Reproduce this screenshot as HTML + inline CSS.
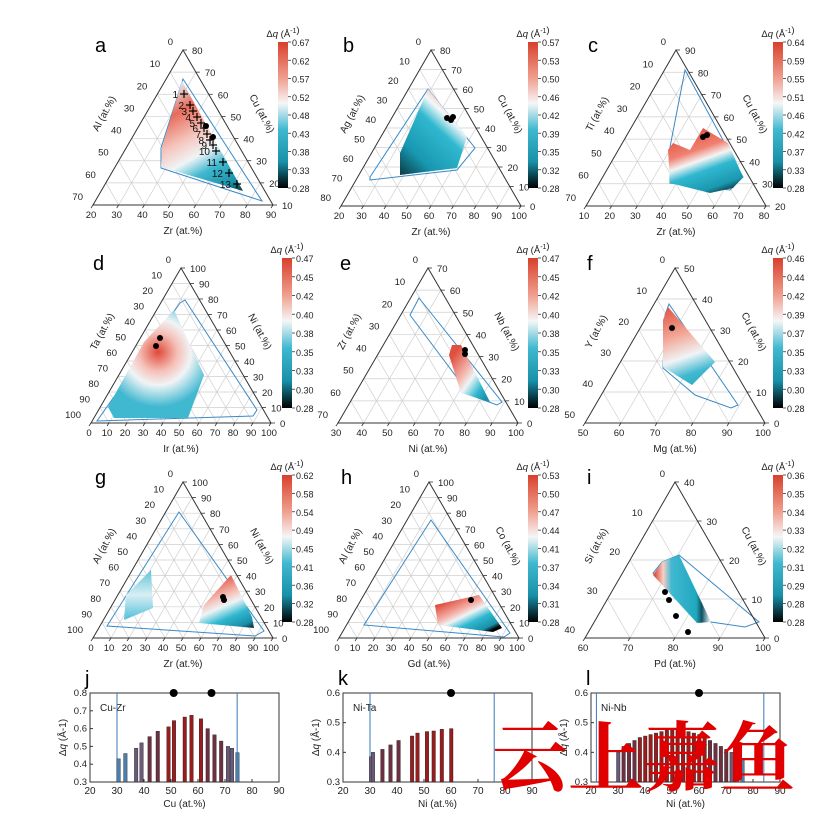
<!DOCTYPE html><html><head><style>body{margin:0;background:#fff}svg{font-family:"Liberation Sans",sans-serif}</style></head><body>
<svg id="s" width="824" height="823" xmlns="http://www.w3.org/2000/svg">
<defs>
<linearGradient id="cb" x1="0" y1="0" x2="0" y2="1"><stop offset="0" stop-color="#d8402c"/><stop offset=".25" stop-color="#f0a090"/><stop offset=".42" stop-color="#f6f6f6"/><stop offset=".6" stop-color="#40b8d0"/><stop offset=".82" stop-color="#1890a8"/><stop offset="1" stop-color="#000"/></linearGradient>
<linearGradient id="ga" gradientUnits="userSpaceOnUse" x1="182" y1="81" x2="243" y2="191"><stop offset="0" stop-color="#dff0f5"/><stop offset=".2" stop-color="#e86a5a"/><stop offset=".42" stop-color="#f5c5bc"/><stop offset=".58" stop-color="#f0f4f6"/><stop offset=".72" stop-color="#40b8d0"/><stop offset=".9" stop-color="#1a90a8"/><stop offset="1" stop-color="#0a3038"/></linearGradient>
<linearGradient id="gb" gradientUnits="userSpaceOnUse" x1="470" y1="100" x2="400" y2="175"><stop offset="0" stop-color="#e05040"/><stop offset=".15" stop-color="#f5b8b0"/><stop offset=".27" stop-color="#f4f8f8"/><stop offset=".42" stop-color="#30b8d0"/><stop offset=".75" stop-color="#1898b0"/><stop offset="1" stop-color="#0a3a45"/></linearGradient>
<linearGradient id="gc" gradientUnits="userSpaceOnUse" x1="700" y1="125" x2="725" y2="195"><stop offset="0" stop-color="#e05040"/><stop offset=".3" stop-color="#f08070"/><stop offset=".45" stop-color="#f4f4f4"/><stop offset=".6" stop-color="#30b8d0"/><stop offset=".85" stop-color="#1a98b0"/><stop offset="1" stop-color="#0a2025"/></linearGradient>
<radialGradient id="gd" gradientUnits="userSpaceOnUse" cx="158" cy="352" r="55"><stop offset="0" stop-color="#e04838"/><stop offset=".35" stop-color="#f5c0b8"/><stop offset=".6" stop-color="#f0f4f6"/><stop offset="1" stop-color="#40b8d0"/></radialGradient>
<linearGradient id="ge" gradientUnits="userSpaceOnUse" x1="450" y1="360" x2="492" y2="390"><stop offset="0" stop-color="#e05040"/><stop offset=".4" stop-color="#f5c0b8"/><stop offset=".55" stop-color="#eef4f6"/><stop offset=".8" stop-color="#30b8d0"/><stop offset="1" stop-color="#1890a8"/></linearGradient>
<linearGradient id="gf" gradientUnits="userSpaceOnUse" x1="670" y1="305" x2="700" y2="390"><stop offset="0" stop-color="#e05040"/><stop offset=".35" stop-color="#f2a898"/><stop offset=".6" stop-color="#f0f4f6"/><stop offset=".8" stop-color="#40b8d0"/><stop offset="1" stop-color="#28a8c0"/></linearGradient>
<linearGradient id="gg" gradientUnits="userSpaceOnUse" x1="225" y1="575" x2="250" y2="632"><stop offset="0" stop-color="#e05040"/><stop offset=".3" stop-color="#f5c0b8"/><stop offset=".45" stop-color="#eef4f6"/><stop offset=".65" stop-color="#30b8d0"/><stop offset=".85" stop-color="#1890a8"/><stop offset="1" stop-color="#000"/></linearGradient>
<linearGradient id="gg2" x1="0" y1="0" x2="0" y2="1"><stop offset="0" stop-color="#60c4d8"/><stop offset=".5" stop-color="#d8eef4"/><stop offset="1" stop-color="#50c0d8"/></linearGradient>
<linearGradient id="gh" gradientUnits="userSpaceOnUse" x1="460" y1="595" x2="480" y2="636"><stop offset="0" stop-color="#e05040"/><stop offset=".3" stop-color="#f5b0a8"/><stop offset=".45" stop-color="#eef4f6"/><stop offset=".65" stop-color="#30b8d0"/><stop offset=".9" stop-color="#1890a8"/><stop offset="1" stop-color="#000"/></linearGradient>
<linearGradient id="gi" gradientUnits="userSpaceOnUse" x1="655" y1="590" x2="710" y2="590"><stop offset="0" stop-color="#e05040"/><stop offset=".15" stop-color="#f5d0c8"/><stop offset=".3" stop-color="#40b8d0"/><stop offset=".75" stop-color="#20a8c0"/><stop offset=".85" stop-color="#105060"/><stop offset="1" stop-color="#e0f0f4"/></linearGradient>
</defs>
<g id="g"></g>
<text x="492" y="785" font-size="76" fill="#e00000" font-family="'Noto Serif CJK SC',serif" font-weight="bold">云上嘉鱼</text>
</svg>
<script>
const g=document.getElementById('g');let h='';
function T(x,y,t,o){o=o||{};h+=`<text x="${x}" y="${y}" font-size="${o.s||10}" text-anchor="${o.a||'middle'}" fill="${o.f||'#222'}"${o.r!==undefined?` transform="rotate(${o.r} ${x} ${y})"`:''}>${t}</text>`}
function L(a,b,c,d,col,w){h+=`<line x1="${a}" y1="${b}" x2="${c}" y2="${d}" stroke="${col||'#333'}" stroke-width="${w||1}"/>`}
function poly(p,f,s){h+=`<polygon points="${p.map(q=>q.join(',')).join(' ')}" fill="${f||'none'}"${s?` stroke="${s}" stroke-width="1"`:''}/>`}
function dot(x,y,r){h+=`<circle cx="${x}" cy="${y}" r="${r||3}" fill="#000"/>`}
const P=[
['a',183,50,205,['Al (at.%)','Cu (at.%)','Zr (at.%)'],7,20,90,80,278,42,188,'0.67 0.62 0.57 0.52 0.48 0.43 0.38 0.33 0.28'],
['b',431,50,206,['Ag (at.%)','Cu (at.%)','Zr (at.%)'],8,20,100,80,528,42,188,'0.57 0.53 0.50 0.46 0.42 0.39 0.35 0.32 0.28'],
['c',676,50,206,['Ti (at.%)','Cu (at.%)','Zr (at.%)'],7,10,80,90,773,42,188,'0.64 0.59 0.55 0.51 0.46 0.42 0.37 0.33 0.28'],
['d',181,268,423,['Ta (at.%)','Ni (at.%)','Ir (at.%)'],10,0,100,100,282,258,408,'0.47 0.45 0.42 0.40 0.38 0.35 0.33 0.30 0.28'],
['e',428,268,423,['Zr (at.%)','Nb (at.%)','Ni (at.%)'],7,30,100,70,528,258,408,'0.47 0.45 0.42 0.40 0.38 0.35 0.33 0.30 0.28'],
['f',675,268,423,['Y (at.%)','Cu (at.%)','Mg (at.%)'],5,50,100,50,773,258,408,'0.46 0.44 0.42 0.39 0.37 0.35 0.33 0.30 0.28'],
['g',183,482,638,['Al (at.%)','Ni (at.%)','Zr (at.%)'],10,0,100,100,282,475,622,'0.62 0.58 0.54 0.49 0.45 0.41 0.36 0.32 0.28'],
['h',429,482,638,['Al (at.%)','Co (at.%)','Gd (at.%)'],10,0,100,100,528,475,622,'0.53 0.50 0.47 0.44 0.41 0.37 0.34 0.31 0.28'],
['i',675,482,638,['Si (at.%)','Cu (at.%)','Pd (at.%)'],4,60,100,40,773,475,622,'0.36 0.35 0.34 0.33 0.32 0.31 0.29 0.28 0.28']];
for(const p of P){const [lab,ax,ay,by,nm,n]=p;const hw=90,H=by-ay;
for(let i=1;i<n;i++){const t=i/n;
L(ax-hw*t,ay+H*t,ax+hw*t,ay+H*t,'#cfcfcf',.7);
L(ax+hw*t,ay+H*t,ax-hw+2*hw*t,by,'#cfcfcf',.7);
L(ax-hw*t,ay+H*t,ax+hw-2*hw*t,by,'#cfcfcf',.7);}
p.push(hw);}
poly([[183,79],[262,201],[161,168],[161,148]],null,'#3a8ac8');
poly([[182,81],[243,191],[161,167],[162,147]],'url(#ga)');
poly([[428,89],[475,148],[457,170],[370,180],[370,177]],null,'#3a8ac8');
poly([[428,89],[467,137],[457,168],[400,175],[400,153]],'url(#gb)');
poly([[685,70],[743,177],[730,190],[670,183],[670,147]],null,'#3a8ac8');
poly([[703,128],[728,143],[743,177],[733,188],[710,193],[670,183],[668,150],[673,143],[690,150]],'url(#gc)');
poly([[185,300],[257,410],[253,416],[97,421],[180,303]],null,'#3a8ac8');
poly([[174,310],[204,375],[188,418],[114,418],[108,407],[144,342]],'url(#gd)');
poly([[419,298],[502,402],[497,405],[470,395],[410,315]],null,'#3a8ac8');
poly([[452,345],[461,345],[490,402],[461,393],[449,355]],'url(#ge)');
poly([[669,304],[738,405],[731,408],[695,395],[663,368],[665,315]],null,'#3a8ac8');
poly([[668,307],[715,362],[692,385],[663,367],[663,320]],'url(#gf)');
poly([[179,512],[264,631],[255,636],[107,626]],null,'#3a8ac8');
poly([[151,570],[153,608],[124,620],[126,595]],'url(#gg2)');
poly([[231,575],[252,617],[254,628],[199,623],[204,605]],'url(#gg)');
poly([[431,520],[510,633],[504,637],[364,625]],null,'#3a8ac8');
poly([[435,605],[479,595],[502,628],[493,632],[438,625]],'url(#gh)');
poly([[679,555],[759,622],[745,627],[711,622],[653,573],[662,562]],null,'#3a8ac8');
poly([[679,555],[711,622],[697,623],[653,575],[662,562]],'url(#gi)');
const cr=[[184,94],[190,105],[193,111],[197,117],[201,123],[204,128],[207,134],[210,140],[213,145],[216,151],[223,162],[229,173],[237,184]];
cr.forEach((c,i)=>{L(c[0]-4,c[1],c[0]+4,c[1],'#000',1.2);L(c[0],c[1]-4,c[0],c[1]+4,'#000',1.2);T(c[0]-6,c[1]+4,i+1,{s:10,a:'end',f:'#111'})});
dot(206,126);dot(213,137);dot(451,120);dot(453,117);dot(447,118);dot(703,137);dot(707,135);
dot(160,338);dot(156,346);dot(465,350);dot(465,354);dot(672,328);dot(223,597);dot(224,600);dot(471,600);
dot(665,592);dot(669,600);dot(676,616);dot(688,632);
for(const p of P){const [lab,ax,ay,by,nm,n,b0,b1,r0,cx,c0,c1,cbl,hw]=p;const H=by-ay;
poly([[ax,ay],[ax-hw,by],[ax+hw,by]],null,'#333');
for(let i=0;i<=n;i++){const t=i/n;
T(ax-hw+2*hw*t-2,by+13,Math.round(b0+(b1-b0)*t),{s:9.5});
L(ax-hw+2*hw*t,by,ax-hw+2*hw*t-2,by+3,'#333',.8);
T(ax+hw*t+9,ay+H*t+4,Math.round(r0-10*n*t),{s:9.5,a:'start'});
L(ax+hw*t,ay+H*t,ax+hw*t+4,ay+H*t,'#333',.8);
T(ax-hw*t-10,ay+H*t-5,Math.round(n*10*t),{s:9.5,a:'end'});}
T(ax,by+29,nm[2],{s:10});T(ax-76,ay+H*.42,nm[0],{s:10,r:-62});T(ax+76,ay+H*.42,nm[1],{s:10,r:62});
T(ax-88,ay+2,lab,{s:20,a:'start',f:'#000'});
h+=`<rect x="${cx}" y="${c0}" width="10" height="${c1-c0}" fill="url(#cb)"/>`;
cbl.split(' ').forEach((v,i)=>{const y=c0+(c1-c0)*i/8;L(cx+10,y,cx+13,y,'#333',.8);T(cx+14,y+4,v,{s:9,a:'start'});});
T(cx+5,c0-5,'Δ<tspan font-style="italic">q</tspan> (Å<tspan font-size="7" dy="-4">-1</tspan>)',{s:9.5});}
function chart(x0,x1,y0,y1,lab,name,xl,ymin,ymax,bars,lines,dots){h+=`<rect x="${x0}" y="${y0}" width="${x1-x0}" height="${y1-y0}" fill="none" stroke="#333"/>`;
const X=v=>x0+(v-20)/70*(x1-x0),Y=v=>y1-(v-ymin)/(ymax-ymin)*(y1-y0);
for(let v=20;v<=90;v+=10){T(X(v),y1+12,v,{s:10});L(X(v),y1,X(v),y1-3)}
for(let v=ymin;v<=ymax+1e-9;v+=.1){T(x0-3,Y(v)+3,v.toFixed(1),{s:9.5,a:'end'});L(x0,Y(v),x0+3,Y(v))}
T((x0+x1)/2,y1+25,xl,{s:10});T(x0-24,(y0+y1)/2,'Δ<tspan font-style="italic">q</tspan> (Å-1)',{s:10,r:-90});
T(x0-5,y0-8,lab,{s:20,a:'start',f:'#000'});T(x0+10,y0+18,name,{s:10,a:'start'});
for(const l of lines)L(X(l),y0,X(l),y1,'#3a7ab8',1);
for(const d of dots)h+=`<circle cx="${X(d)}" cy="${y0}" r="4" fill="#000"/>`;
const mx=Math.max(...bars.map(b=>b[1]));
for(const [v,b] of bars){const t=(b-ymin)/(mx-ymin);const c=t>.8?'#9a1c1c':t>.6?'#6e3040':t>.45?'#6a5a78':'#4a80b0';
h+=`<rect x="${X(v)-1.5}" y="${Y(b)}" width="3.5" height="${y1-Y(b)}" fill="${c}" stroke="#222" stroke-width=".4"/>`;}}
chart(90,279,693,782,'j','Cu-Zr','Cu (at.%)',.3,.8,[[30.5,.43],[33,.46],[37,.49],[39,.52],[42,.555],[45,.585],[49,.61],[51,.645],[55,.665],[57.5,.675],[61,.655],[63.5,.6],[66,.565],[68.5,.53],[71,.5],[72.5,.49],[74.5,.465]],[30,74.5],[51,65]);
chart(343,532,693,782,'k','Ni-Ta','Ni (at.%)',.3,.6,[[30.3,.385],[31,.4],[34.5,.41],[37.5,.425],[40.5,.44],[45.5,.455],[47.5,.465],[51,.47],[53.5,.472],[56.5,.478],[60,.48]],[30,76],[60]);
chart(591,780,693,782,'l','Ni-Nb','Ni (at.%)',.3,.6,[[30,.4],[32,.42],[34,.43],[36,.44],[38,.45],[40,.455],[42,.46],[44,.465],[46,.47],[48,.475],[50,.478],[52,.48],[54,.475],[56,.47],[58,.465],[60,.46],[62,.45],[64,.44],[66,.43],[68,.42],[70,.41],[72,.4],[74,.39],[76,.38]],[22,84],[60]);
g.innerHTML=h;
</script></body></html>
